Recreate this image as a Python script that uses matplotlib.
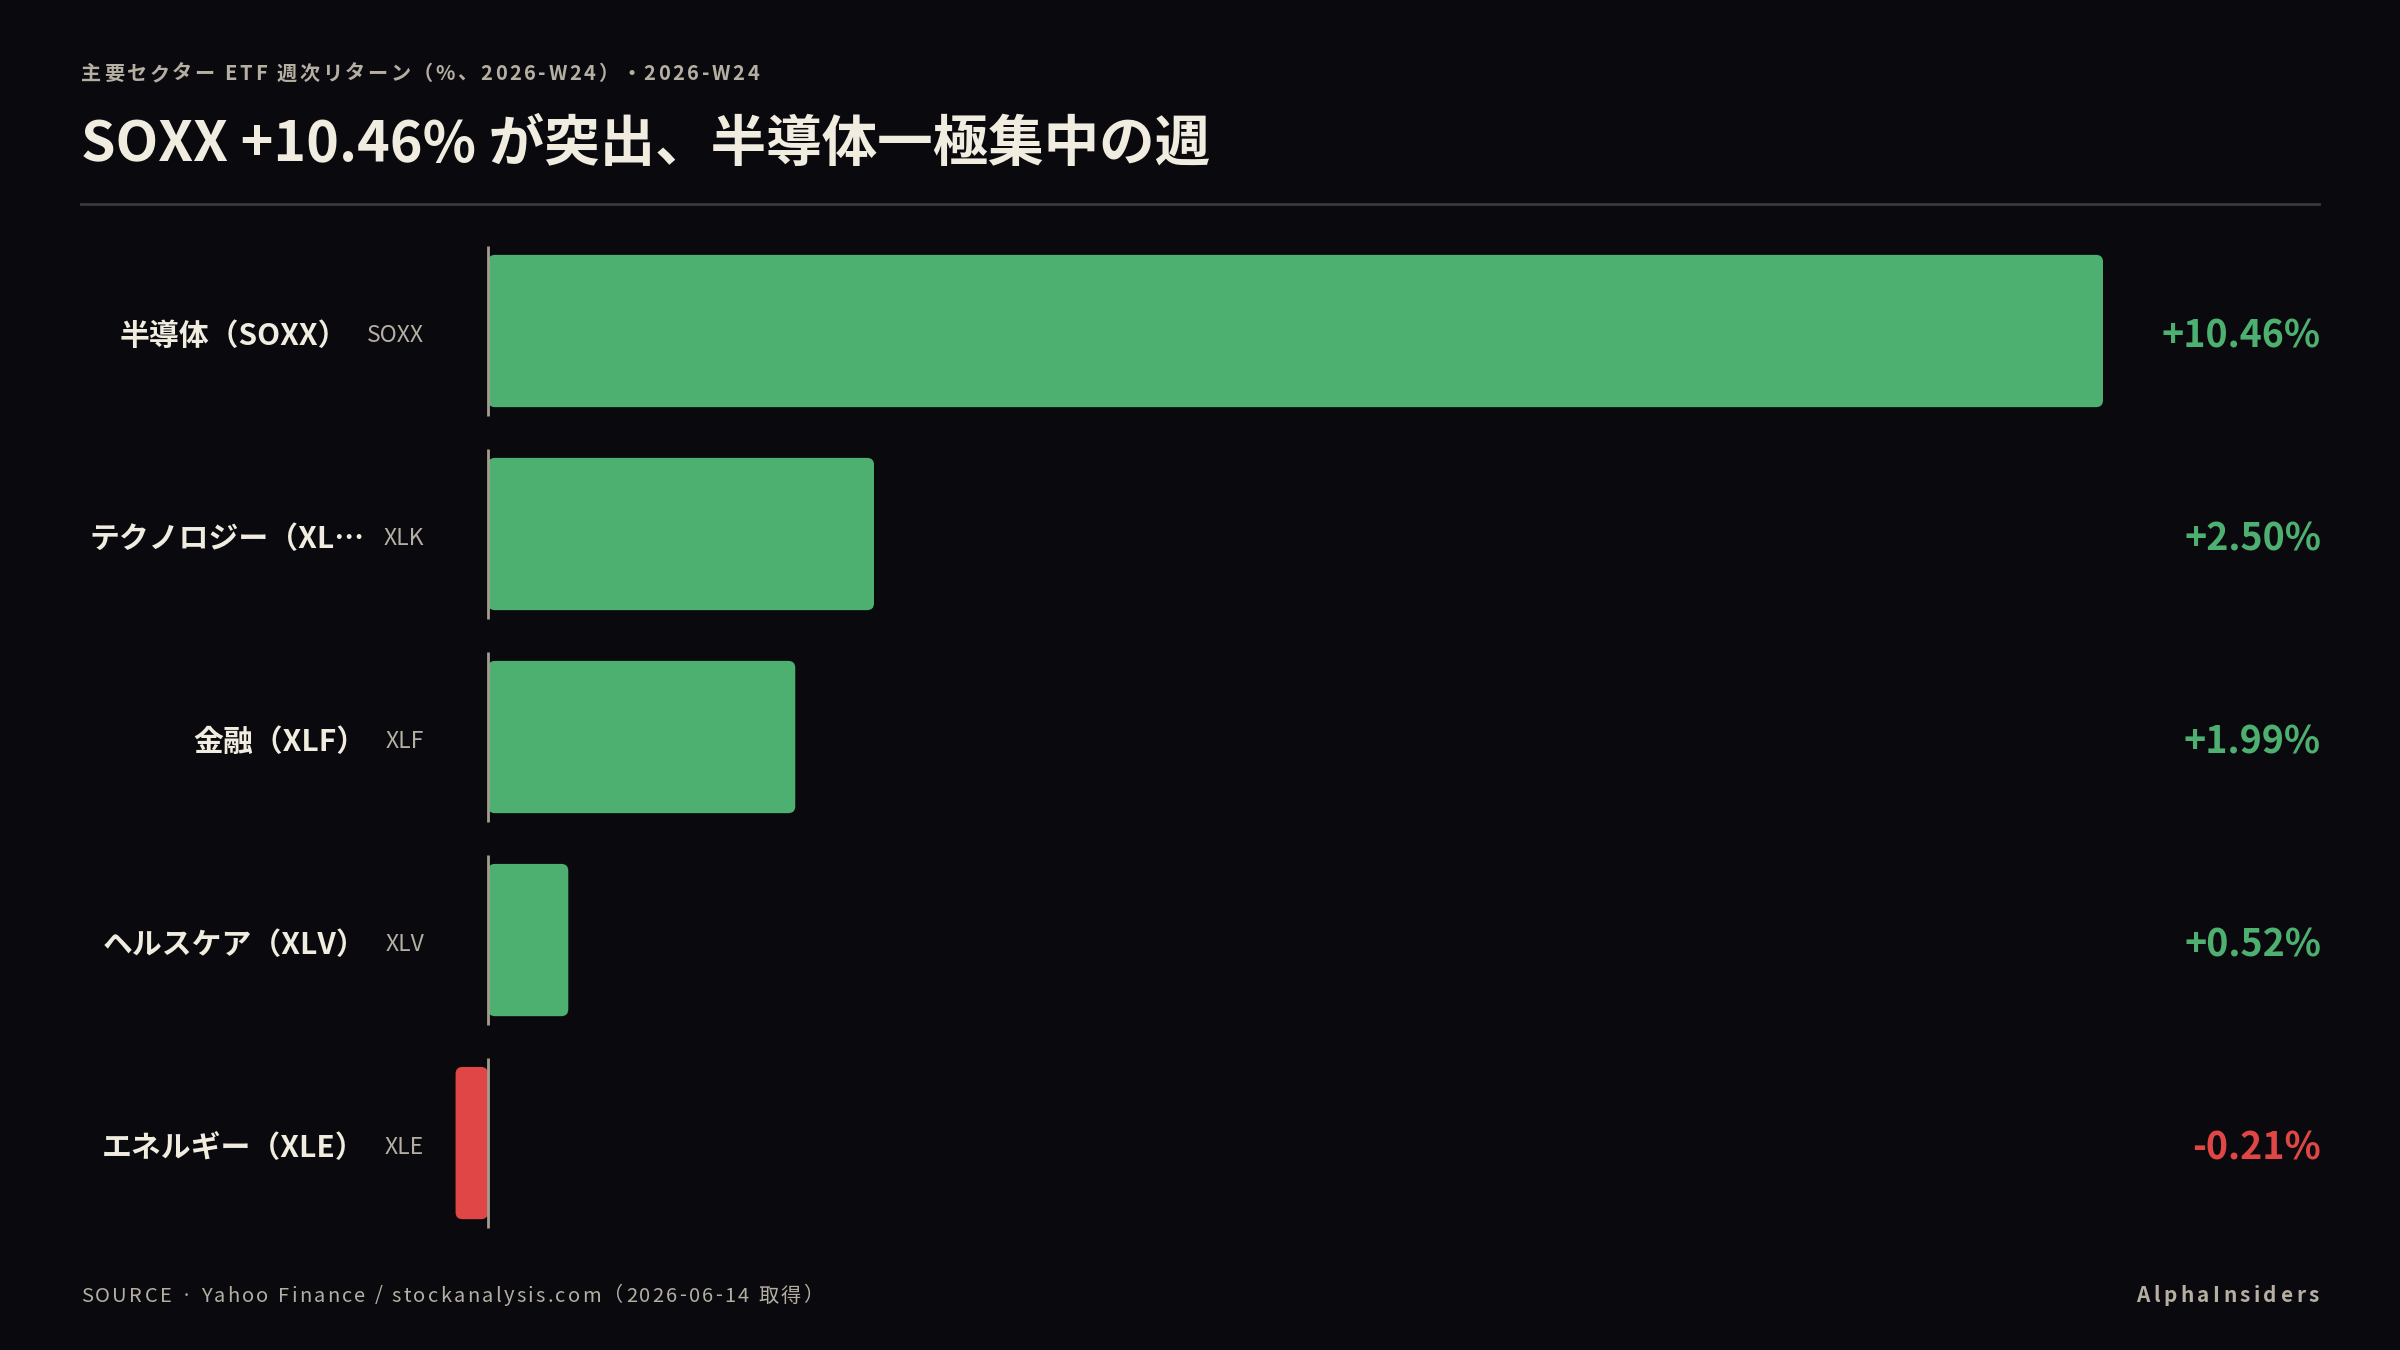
import matplotlib
matplotlib.use("Agg")
import matplotlib.pyplot as plt
from matplotlib.patches import FancyBboxPatch
from matplotlib import transforms

plt.rcParams['font.family'] = ['Noto Sans CJK JP', 'DejaVu Sans']

# data
sectors = ['半導体（SOXX）', 'テクノロジー（XL…', '金融（XLF）', 'ヘルスケア（XLV）', 'エネルギー（XLE）']
tickers = ['SOXX', 'XLK', 'XLF', 'XLV', 'XLE']
returns = [10.46, 2.50, 1.99, 0.52, -0.21]

# colours
BG = '#0a0a0e'
TXT = '#f0ece0'
MUTED = '#b5afa3'
GREEN = '#4eb070'
RED = '#e04646'

W, H = 2400, 1350
fig = plt.figure(figsize=(24, 13.5), dpi=100, facecolor=BG)
renderer = fig.canvas.get_renderer()

ax = fig.add_axes([410.8 / W, 0.0781, 0.7051, 0.7519])
ax.set_facecolor(BG)
ax.set_xlim(-0.5, 10.46)
ax.set_ylim(len(sectors) - 0.5, -0.5)
ax.axis('off')

ypos = list(range(len(sectors)))
colors = [GREEN if v >= 0 else RED for v in returns]
bars = ax.barh(ypos, returns, height=0.75, color=colors)

# swap plain bars for rounded ones
for b, c in zip(bars, colors):
    b.set_visible(False)
    x0 = min(b.get_x(), b.get_x() + b.get_width())
    w = abs(b.get_width())
    ax.add_patch(FancyBboxPatch((x0, b.get_y()), w, b.get_height(),
                                boxstyle="round,pad=0,rounding_size=0.045",
                                mutation_aspect=0.76, facecolor=c, edgecolor='none'))

# zero line, one piece per row
for y in ypos:
    ax.vlines(0, y - 0.42, y + 0.42, color='#a39d91', lw=2, zorder=3)

# labels and values
dy = 0.023  # nudge text down a little
tr = transforms.blended_transform_factory(fig.transFigure, ax.transData)
for y, name, tk, v, c in zip(ypos, sectors, tickers, returns, colors):
    t = fig.text(424 / W, y + dy, tk, transform=tr, ha='right', va='center',
                 fontsize=16.5, color=MUTED)
    fig.add_artist(plt.Annotation(name, xy=(0, 0.5), xycoords=t, xytext=(-19, 0),
                                  textcoords='offset pixels', ha='right', va='center',
                                  fontsize=21.5, fontweight='bold', color=TXT))
    fig.text(2321 / W, y + dy, f'{v:+.2f}%', transform=tr, ha='right', va='center',
             fontsize=27, fontweight='bold', color=c)


def text_w(s, **kw):
    t = fig.text(0, 0, s, **kw)
    w = t.get_window_extent(renderer).width
    t.remove()
    return w


def tracked(x, y, s, track, ha='left', **kw):
    # draw text char by char with extra letter spacing (pixels)
    base = text_w('xx', **kw)
    adv = [text_w('x' + ch + 'x', **kw) - base for ch in s]
    total = sum(adv) + track * (len(s) - 1)
    if ha == 'right':
        x -= total
    for ch, a in zip(s, adv):
        fig.text(x / W, y, ch, ha='left', va='center', **kw)
        x += a + track


# header
tracked(81, 1 - 73.5 / H, '主要セクター ETF 週次リターン（%、2026-W24）・2026-W24', 2.6,
        fontsize=14.5, fontweight='bold', color=MUTED)
fig.text(81 / W, 1 - 145.5 / H, 'SOXX +10.46% が突出、半導体一極集中の週',
         ha='left', va='center', fontsize=40, fontweight='bold', color=TXT)
fig.add_artist(plt.Line2D([81 / W, 2319 / W], [1 - 204 / H] * 2,
                          color='#3a3a3c', lw=2, transform=fig.transFigure))

# footer
tracked(81, 1 - 1296 / H, 'SOURCE · Yahoo Finance / stockanalysis.com（2026-06-14 取得）', 2.3,
        fontsize=14.5, color=MUTED)
tracked(2319, 1 - 1296 / H, 'AlphaInsiders', 3.5, ha='right',
        fontsize=15, fontweight='bold', color=MUTED)

plt.savefig('out.png', dpi=100, facecolor=BG)
